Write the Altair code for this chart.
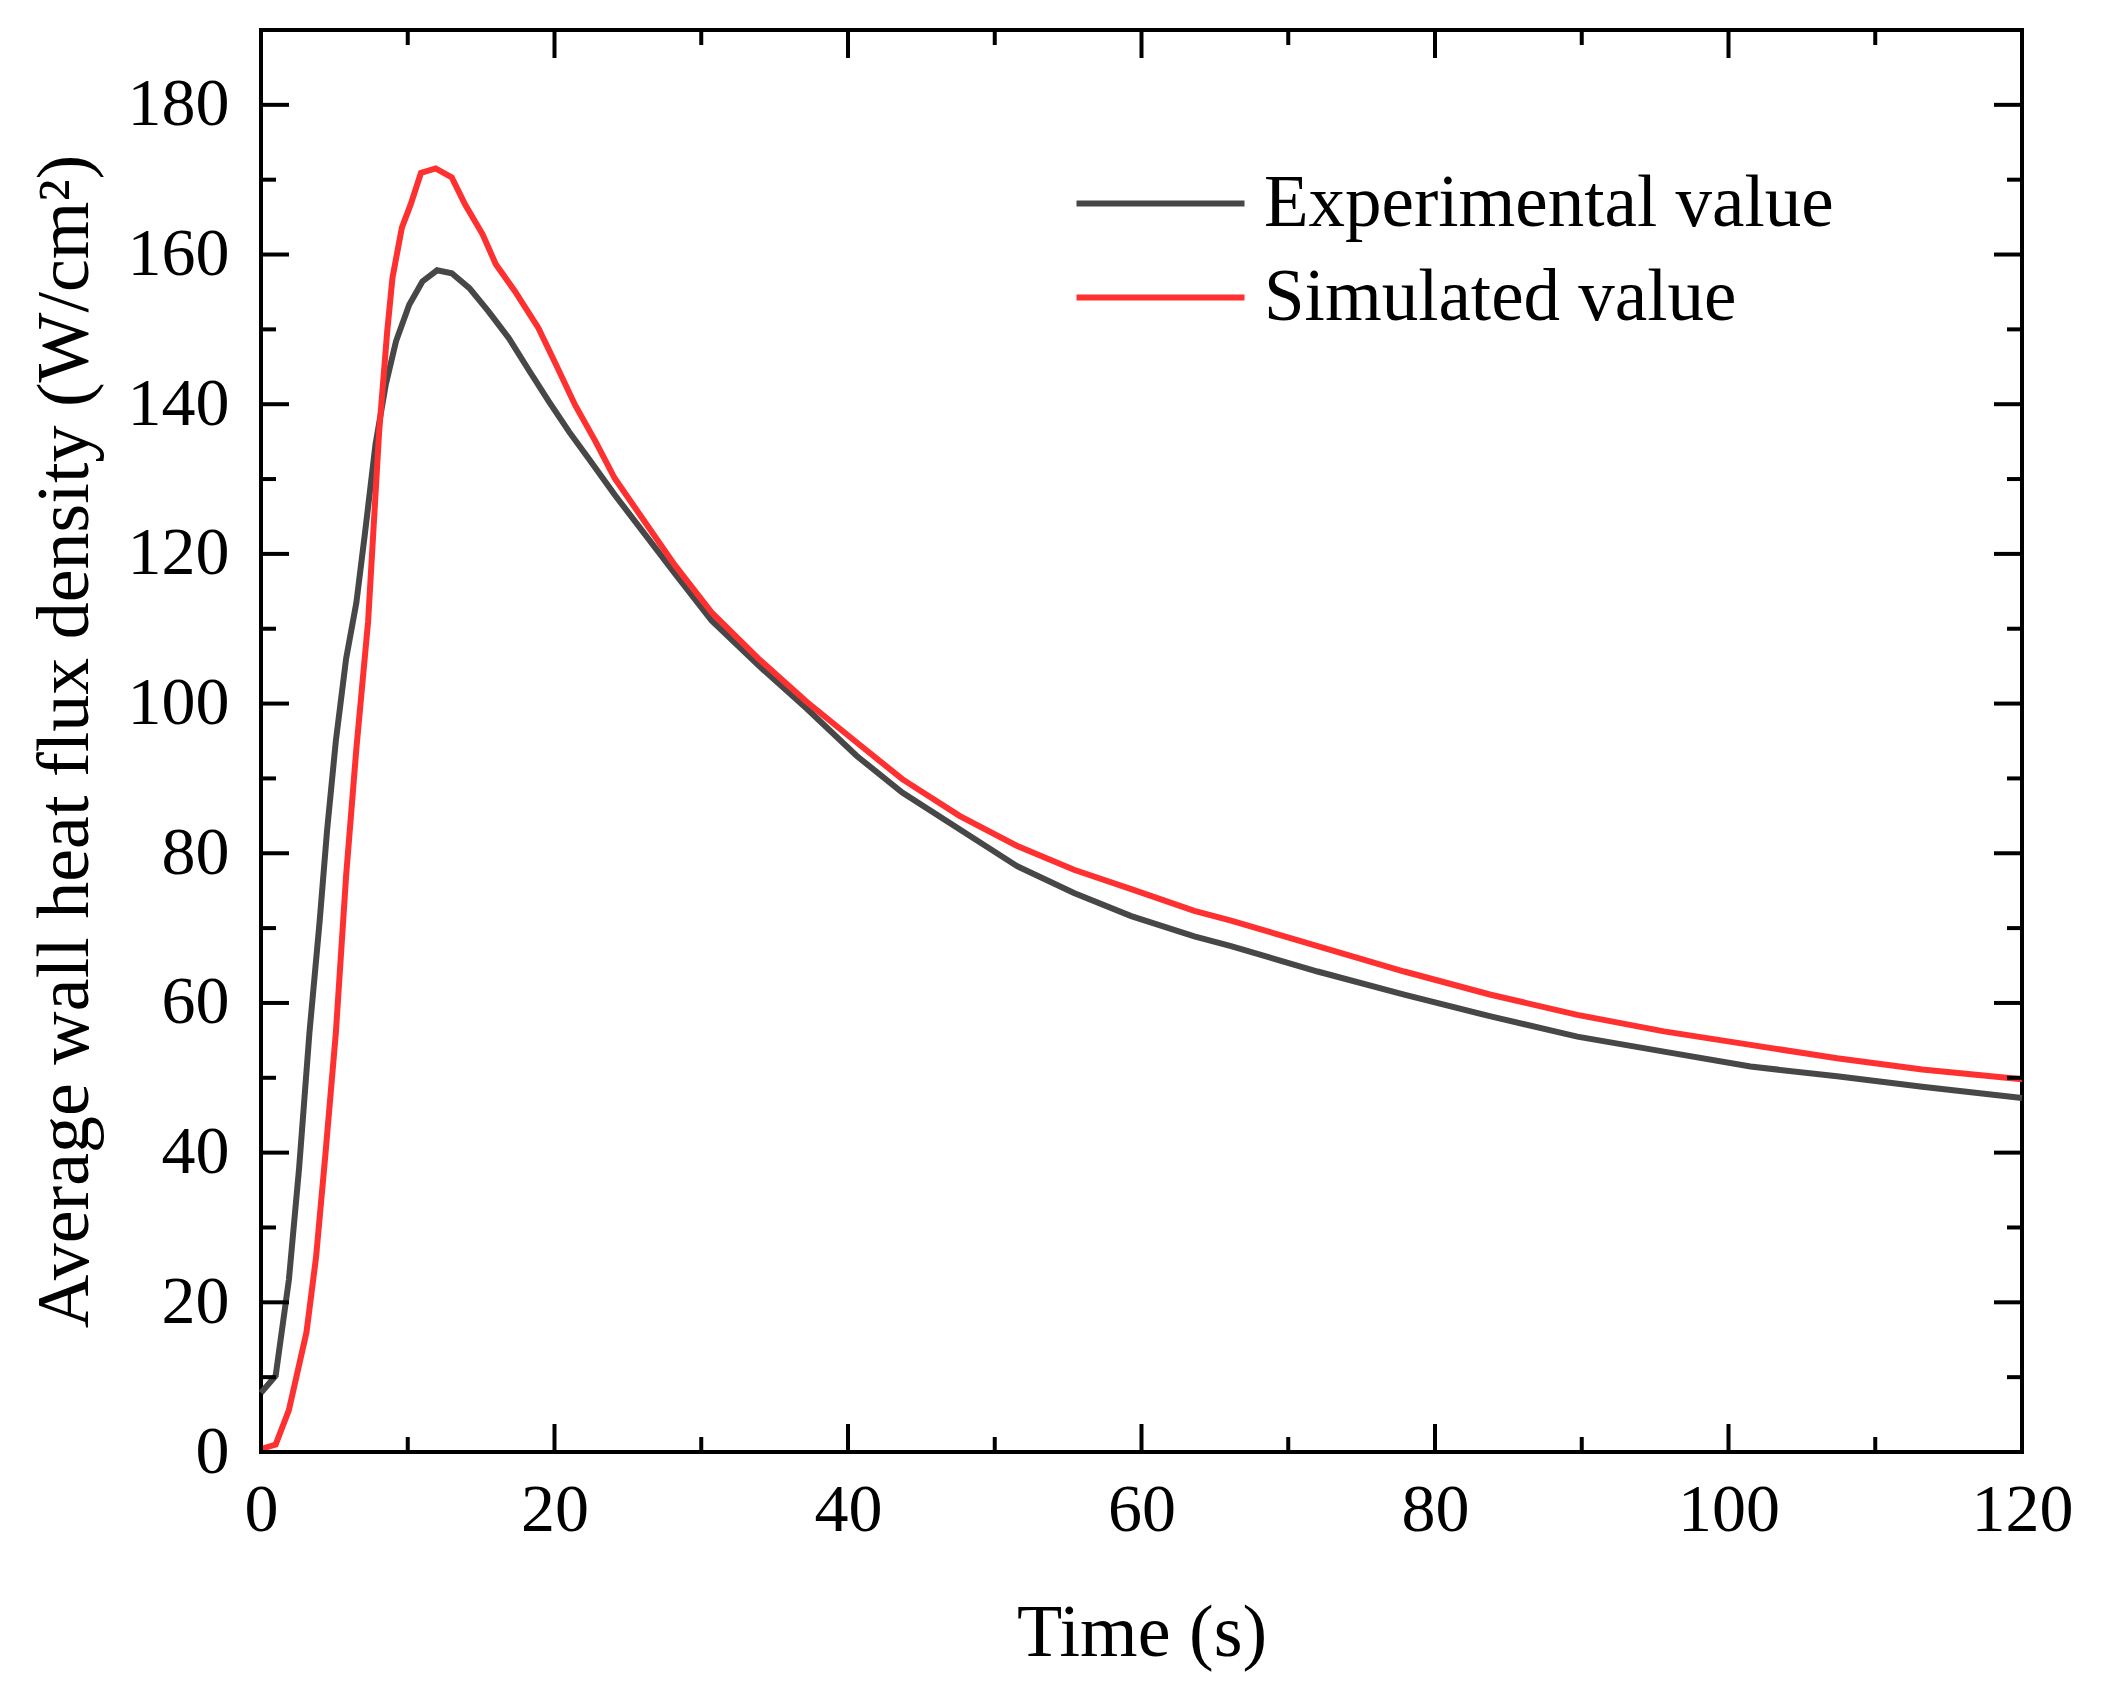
import altair as alt
import pandas as pd

# experimental curve (grey)
time_exp = [0, 1, 1.9, 2.6, 3.3, 4, 4.5, 5.1, 5.8, 6.5, 7.1, 7.8, 8.5, 9.2, 10.1, 11, 12, 13,
            14.2, 15.5, 16.9, 18.3, 19.6, 21, 22.3, 24.1, 28.2, 30.7, 33.9, 37.2, 40.6, 43.7,
            47.6, 51.5, 55.4, 59.3, 63.6, 66.1, 72, 77.9, 83.8, 89.7, 95.6, 101.5, 107.4, 113.2, 120]
flux_exp = [7.9, 10.2, 23, 38, 56, 71, 83, 95, 106, 113.5, 123, 134.6, 142.6, 148.4, 153.3, 156.4, 157.9, 157.5,
            155.5, 152.4, 148.8, 144.4, 140.4, 136.3, 132.8, 127.9, 117.4, 111.1, 105.1, 99.3, 93, 88.1,
            83.2, 78.3, 74.7, 71.6, 68.9, 67.6, 64.2, 61.1, 58.2, 55.5, 53.5, 51.5, 50.2, 48.8, 47.3]

# simulated curve (red)
time_sim = [0, 1, 1.9, 3.1, 3.75, 4.4, 5.1, 5.8, 6.5, 7.3, 8.05, 8.6, 8.96, 9.6, 10.2, 10.9, 11.9, 13,
            13.9, 15.1, 16, 17.3, 18.9, 20.1, 21.4, 22.8, 24.1, 28.2, 30.7, 33.9, 37.2, 40.6, 43.7,
            47.6, 51.5, 55.4, 59.3, 63.6, 66.1, 72, 77.9, 83.8, 89.7, 95.6, 101.5, 107.4, 113.2, 120]
flux_sim = [0.4, 1, 5.6, 16, 26, 40, 56, 77, 94, 111, 136.3, 149.7, 156.9, 163.6, 166.7, 170.9, 171.5, 170.3,
            166.7, 162.7, 158.7, 155.1, 150.2, 145.3, 139.9, 135, 130.1, 118.5, 112.2, 106, 100.2, 94.8, 89.9,
            85, 81, 77.8, 75.2, 72.3, 71.0, 67.6, 64.2, 61.1, 58.4, 56.2, 54.4, 52.6, 51.1, 49.8]

series_names = ["Experimental value", "Simulated value"]
series_colors = ["#474747", "#ff3030"]

x_major = [0, 20, 40, 60, 80, 100, 120]
x_minor = [10, 30, 50, 70, 90, 110]
y_major = [0, 20, 40, 60, 80, 100, 120, 140, 160, 180]
y_minor = [10, 30, 50, 70, 90, 110, 130, 150, 170]

W, H = 1761, 1422
FONT = "Liberation Serif"

df = pd.concat([
    pd.DataFrame({"time": time_exp, "flux": flux_exp, "series": series_names[0]}),
    pd.DataFrame({"time": time_sim, "flux": flux_sim, "series": series_names[1]}),
])

x_scale = alt.Scale(domain=[0, 120], nice=False, zero=False)
y_scale = alt.Scale(domain=[0, 190], nice=False, zero=False)
x_axis = alt.Axis(values=x_major, title="Time (s)", labelPadding=24, titlePadding=53,
                  labelFlush=False)
y_axis = alt.Axis(values=y_major, title="Average wall heat flux density (W/cm²)",
                  labelPadding=32, titlePadding=24, labelFlush=False)

lines = alt.Chart(df).mark_line(strokeWidth=6).encode(
    x=alt.X("time:Q", scale=x_scale, axis=x_axis),
    y=alt.Y("flux:Q", scale=y_scale, axis=y_axis),
    color=alt.Color("series:N",
                    scale=alt.Scale(domain=series_names, range=series_colors),
                    legend=alt.Legend(title=None, orient="none", legendX=863, legendY=137,
                                      symbolType="M-4,0H4", symbolSize=1764, symbolStrokeWidth=6,
                                      labelFont=FONT, labelFontSize=73, labelColor="black",
                                      labelOffset=67, labelLimit=0, rowPadding=20, padding=0)),
    order=alt.Order("series:N"),
)


def tick_layer(vals, length, axis_ch):
    d = pd.DataFrame({"v": vals})
    base = alt.Chart(d).mark_rule(color="black", strokeWidth=4)
    if axis_ch == "x":
        enc = dict(x=alt.X("v:Q", scale=x_scale, axis=x_axis))
        bottom = base.encode(y=alt.value(H), y2=alt.value(H - length), **enc)
        top = base.encode(y=alt.value(0), y2=alt.value(length), **enc)
    else:
        enc = dict(y=alt.Y("v:Q", scale=y_scale, axis=y_axis))
        bottom = base.encode(x=alt.value(0), x2=alt.value(length), **enc)
        top = base.encode(x=alt.value(W), x2=alt.value(W - length), **enc)
    return bottom + top


chart = alt.layer(
    lines,
    tick_layer(x_major, 28, "x"),
    tick_layer(x_minor, 15, "x"),
    tick_layer(y_major, 28, "y"),
    tick_layer(y_minor, 15, "y"),
).properties(
    width=W, height=H,
    autosize=alt.AutoSizeParams(type="none"),
    padding={"left": 253, "top": 22, "right": 70, "bottom": 234},
).configure_view(
    stroke="black", strokeWidth=4
).configure_axis(
    labelFont=FONT, labelFontSize=68, labelColor="black",
    titleFont=FONT, titleFontSize=74, titleFontWeight="normal", titleColor="black",
    domain=False, ticks=False, grid=False,
)

chart.save("out.html", embed_options={"renderer": "svg", "actions": False})
